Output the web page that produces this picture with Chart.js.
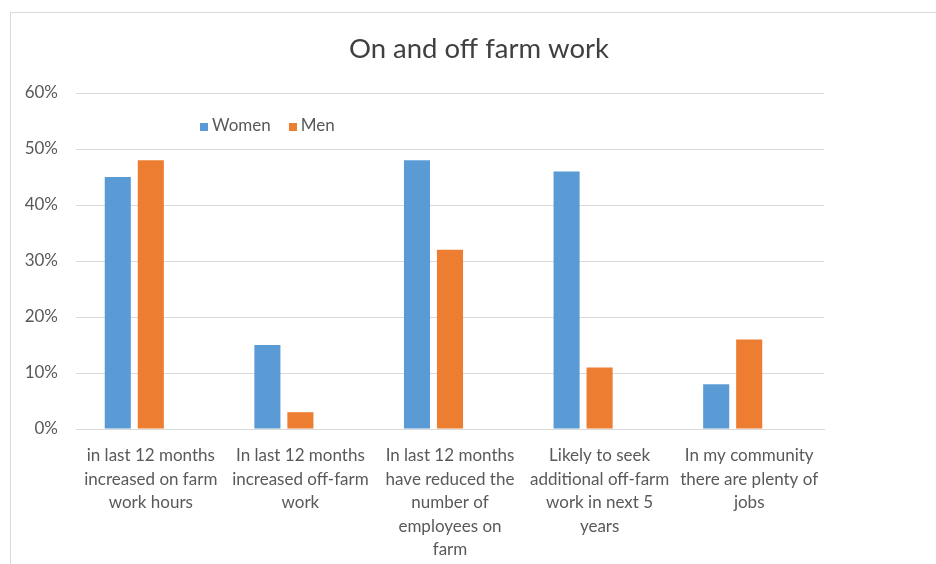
<!DOCTYPE html>
<html>
<head>
<meta charset="utf-8">
<script src="https://cdn.jsdelivr.net/npm/chart.js@4.4.1/dist/chart.umd.min.js"></script>
<style>
    html, body { margin: 0; padding: 0; background: #fff; overflow: hidden; }
    body { width: 936px; height: 564px; position: relative; }
    #frame {
        position: absolute; left: 10px; top: 12px;
        width: 938px; height: 560px;
        border: 1px solid #d9d9d9; box-sizing: border-box;
    }
    #wrap { position: absolute; left: 0; top: 0; width: 936px; height: 558px; }
    #legend {
        position: absolute; left: 189px; top: 101px;
        font-family: Lato, "Liberation Sans", sans-serif; font-size: 17px; color: #595959;
        display: flex; gap: 18px; align-items: center;
    }
    #legend span.sw { display: inline-block; width: 8px; height: 8px; margin-right: 4px; }
</style>
</head>
<body>
<div id="frame">
    <div id="wrap"><canvas id="farmChart"></canvas></div>
    <div id="legend"></div>
</div>
<script>
const categories = [
    ['in last 12 months', 'increased on farm', 'work hours'],
    ['In last 12 months', 'increased off-farm', 'work'],
    ['In last 12 months', 'have reduced the', 'number of', 'employees on', 'farm'],
    ['Likely to seek', 'additional off-farm', 'work in next 5', 'years'],
    ['In my community', 'there are plenty of', 'jobs']
];
const women = [45, 15, 48, 46, 8];
const men = [48, 3, 32, 11, 16];
const yTicks = [0, 10, 20, 30, 40, 50, 60];

const textColor = '#595959';
const fontFamily = 'Lato, "Liberation Sans", sans-serif';

let farmChart;

function initChart() {
    const ctx = document.getElementById('farmChart').getContext('2d');
    farmChart = new Chart(ctx, {
        type: 'bar',
        data: {
            labels: categories,
            datasets: [
                {
                    label: 'Women',
                    data: women,
                    backgroundColor: '#5b9bd5',
                    barPercentage: 0.79,
                    categoryPercentage: 0.662
                },
                {
                    label: 'Men',
                    data: men,
                    backgroundColor: '#ed7d31',
                    barPercentage: 0.79,
                    categoryPercentage: 0.662
                },
                {
                    // empty third series keeps its slot in each group
                    label: '',
                    data: categories.map(() => null),
                    backgroundColor: '#a5a5a5',
                    barPercentage: 0.79,
                    categoryPercentage: 0.662
                }
            ]
        },
        options: {
            responsive: true,
            maintainAspectRatio: false,
            animation: false,
            layout: { padding: 0 },
            scales: {
                x: {
                    grid: { display: false, drawTicks: false },
                    border: { color: '#d9d9d9', width: 1 },
                    ticks: {
                        color: textColor,
                        font: { family: fontFamily, size: 17, lineHeight: 1.38 },
                        maxRotation: 0,
                        autoSkip: false,
                        padding: 15
                    },
                    afterFit: s => { s.height = 142; }
                },
                y: {
                    min: 0,
                    max: 60,
                    afterBuildTicks: s => { s.ticks = yTicks.map(v => ({ value: v })); },
                    grid: { color: '#d9d9d9', drawTicks: false },
                    border: { display: false },
                    ticks: {
                        color: textColor,
                        font: { family: fontFamily, size: 17 },
                        padding: 18,
                        callback: v => v + '%'
                    },
                    afterFit: s => { s.width = 65; }
                },
                // blank space to the right of the plot
                pad: {
                    position: 'right',
                    display: true,
                    grid: { display: false, drawTicks: false },
                    border: { display: false },
                    ticks: { display: false },
                    afterFit: s => { s.width = 123; }
                }
            },
            plugins: {
                legend: { display: false },
                tooltip: { enabled: false },
                title: {
                    display: true,
                    text: 'On and off farm work',
                    color: '#404040',
                    font: { family: fontFamily, size: 27.5, weight: 'normal', lineHeight: 1.2 },
                    padding: { top: 20, bottom: 27 }
                }
            }
        }
    });

    // legend lives inside the plot area, only for the named series
    const legendEl = document.getElementById('legend');
    farmChart.data.datasets.filter(d => d.label).forEach(d => {
        const item = document.createElement('div');
        item.innerHTML = '<span class="sw" style="background:' + d.backgroundColor + '"></span>' + d.label;
        legendEl.appendChild(item);
    });
}

initChart();
</script>
</body>
</html>
